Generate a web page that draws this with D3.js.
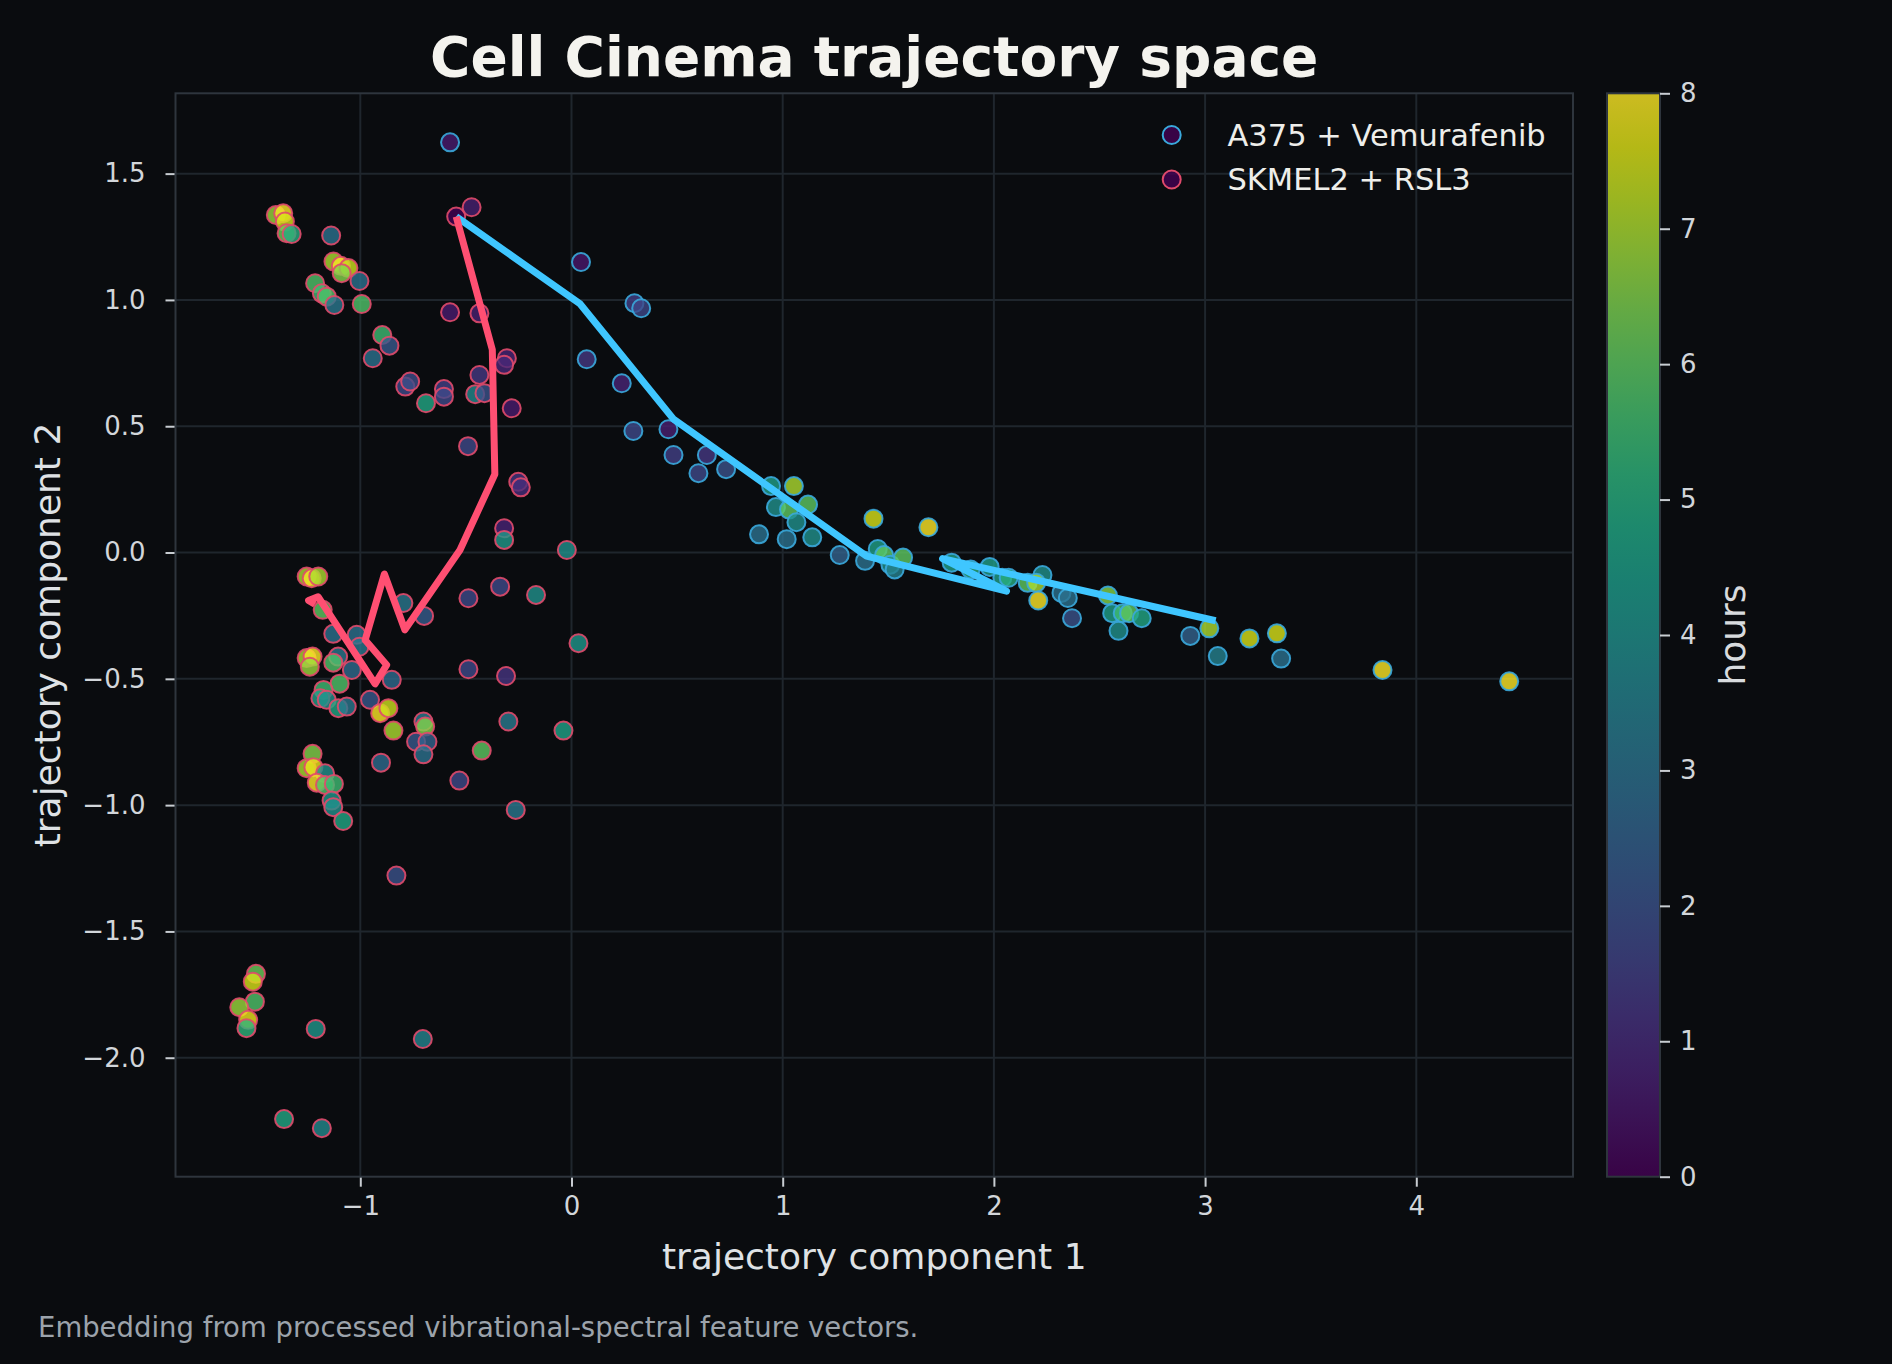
<!DOCTYPE html>
<html>
<head>
<meta charset="utf-8">
<script src="https://cdn.jsdelivr.net/npm/d3@7"></script>
<style>
  body { margin: 0; background: #0a0c0f; }
  svg { display: block; font-family: "DejaVu Sans", sans-serif; }
</style>
</head>
<body>
<script>
// A375 + Vemurafenib cells: component 1, component 2, hours
var a375X = [-0.575, 0.045, 0.298, 0.33, 0.072, 0.238, 0.293, 0.459, 0.483, 0.641, 0.601, 0.732,
  0.888, 0.945, 0.968, 1.019, 1.03, 1.053, 1.065, 1.12, 1.14, 1.27, 1.39, 1.43, 1.45, 1.48, 1.51,
  1.53, 1.57, 1.69, 1.80, 1.89, 1.98, 2.04, 2.07, 2.23, 2.16, 2.20, 2.21, 2.32, 2.35, 2.37, 2.54,
  2.56, 2.61, 2.64, 2.70, 2.59, 2.93, 3.02, 3.06, 3.21, 3.34, 3.36, 3.84, 4.44];
var a375Y = [1.624, 1.15, 0.987, 0.967, 0.765, 0.67, 0.481, 0.488, 0.386, 0.386, 0.314, 0.33,
  0.072, 0.263, 0.18, 0.053, 0.17, 0.263, 0.12, 0.19, 0.06, -0.01, -0.033, 0.134, 0.014, -0.01, -0.048,
  -0.067, -0.02, 0.1, -0.04, -0.067, -0.057, -0.10, -0.10, -0.089, -0.12, -0.12, -0.19, -0.16, -0.18, -0.26, -0.17,
  -0.24, -0.24, -0.24, -0.26, -0.31, -0.33, -0.30, -0.41, -0.34, -0.32, -0.42, -0.465, -0.51];
var a375H = [0.6, 0.5, 1.5, 1.7, 1.3, 0.8, 1.8, 0.7, 1.5, 1.3, 1.8, 2,
  3, 4.5, 4, 3, 6, 7, 4, 6, 4, 2.5, 3, 7.5, 4.5, 6, 4,
  3.5, 6, 8, 4.5, 5, 4.5, 4.5, 5, 4, 6, 7, 8, 3, 3, 2, 6.5,
  4.5, 5.5, 6, 4.8, 4, 2.5, 7, 3.5, 7.5, 7.5, 3, 8, 8];

// SKMEL2 + RSL3 cells
var skX = [-0.546, -0.473, -1.40, -1.365, -1.357, -1.349, -1.325, -1.138, -1.127, -1.092, -1.056, -1.088,
  -1.004, -1.214, -1.182, -1.159, -1.123, -0.993, -0.896, -0.862, -0.941, -0.787, -0.764, -0.689,
  -0.604, -0.604, -0.575, -0.436, -0.436, -0.456, -0.412, -0.306, -0.319, -0.283, -0.49, -0.252,
  -0.24, -0.319, -0.319, -0.022, -0.338, -0.488, -0.168, -0.796, -0.698, -1.254, -1.23, -1.199,
  -1.178, -1.128, -1.017, -1.004, 0.033, -1.105, -1.128, -1.254, -1.226, -1.239, -1.04, -0.851,
  -0.488, -0.31, -1.098, -1.174, -1.189, -1.159, -1.104, -1.064, -0.954, -0.906, -0.867, -0.843,
  -0.701, -0.693, -0.736, -0.682, -0.701, -0.299, -0.425, -0.038, -0.902, -0.531, -1.226, -1.254,
  -1.222, -1.167, -1.206, -1.167, -1.125, -1.136, -1.128, -1.081, -0.264, -0.829, -1.494, -1.509,
  -1.499, -1.573, -1.531, -1.539, -1.211, -0.704, -1.361, -1.182];
var skY = [1.33, 1.367, 1.336, 1.343, 1.31, 1.264, 1.261, 1.255, 1.152, 1.135, 1.126, 1.106,
  1.075, 1.066, 1.026, 1.013, 0.98, 0.984, 0.861, 0.819, 0.769, 0.657, 0.677, 0.591,
  0.647, 0.617, 0.951, 0.947, 0.703, 0.627, 0.631, 0.769, 0.743, 0.571, 0.421, 0.28,
  0.258, 0.096, 0.05, 0.01, -0.135, -0.181, -0.168, -0.2, -0.251, -0.095, -0.102, -0.095,
  -0.227, -0.322, -0.326, -0.373, -0.359, -0.412, -0.436, -0.418, -0.412, -0.452, -0.465, -0.504,
  -0.462, -0.489, -0.519, -0.544, -0.577, -0.583, -0.616, -0.61, -0.583, -0.636, -0.616, -0.705,
  -0.669, -0.689, -0.749, -0.749, -0.799, -0.669, -0.784, -0.705, -0.832, -0.903, -0.797, -0.854,
  -0.85, -0.874, -0.911, -0.92, -0.916, -0.982, -1.008, -1.063, -1.019, -1.279, -1.668, -1.699,
  -1.778, -1.8, -1.85, -1.883, -1.886, -1.926, -2.243, -2.279];
var skH = [0, 0.7, 6.8, 8, 7.5, 6.2, 5, 3, 7, 8, 7.4, 6.5,
  3, 5.8, 5.5, 5.8, 3.2, 5.8, 5.5, 2.2, 3, 1.8, 1.9, 4.8,
  1.5, 1.8, 0.6, 0.7, 1.3, 3.8, 2, 0.8, 0.9, 0.6, 1.8, 1.2,
  1.0, 0.8, 4.3, 4, 1.8, 1.8, 4, 3.2, 2.3, 7, 8, 7,
  6, 3, 3, 3.2, 4.2, 3.2, 5.8, 7, 8, 6.8, 2.8, 2.8,
  1.8, 1.2, 5.8, 5.5, 4.5, 4, 4.8, 3.2, 2.2, 8, 7.4, 7,
  3.3, 6.5, 2.2, 2.5, 3, 3.3, 6, 4.6, 2.8, 1.8, 6.5, 7,
  7.8, 4, 8, 5.8, 5.5, 4.2, 4, 4.8, 3.2, 2, 6.2, 7.5,
  5.8, 6.8, 7.8, 5.2, 4.2, 3.6, 4.8, 3.8];

// mean trajectories
var a375TrajX = [-0.546, 0.041, 0.483, 1.397, 2.06, 1.757, 3.05];
var a375TrajY = [1.33, 0.984, 0.528, -0.014, -0.153, -0.024, -0.27];
var skTrajX = [-0.546, -0.375, -0.363, -0.528, -0.789, -0.886, -0.977, -0.875, -0.93, -1.2, -1.245, -1.215];
var skTrajY = [1.33, 0.803, 0.31, 0.01, -0.306, -0.085, -0.346, -0.445, -0.52, -0.175, -0.19, -0.205];

var xTicks = [-1, 0, 1, 2, 3, 4];
var yTicks = [-2.0, -1.5, -1.0, -0.5, 0.0, 0.5, 1.0, 1.5];
var cbTicks = [0, 1, 2, 3, 4, 5, 6, 7, 8];
var seriesNames = ["A375 + Vemurafenib", "SKMEL2 + RSL3"];
var lineColors = ["#3fc6ff", "#ff4f72"];
var edgeColors = ["#3aa9dc", "#e04a6c"];

var W = 1892, H = 1364;
var plot = { left: 175.5, right: 1573, top: 93.3, bottom: 1176.7 };
var cb = { left: 1607, right: 1660 };

var x = d3.scaleLinear().domain([-1.875, 4.742]).range([plot.left, plot.right]);
var y = d3.scaleLinear().domain([-2.471, 1.818]).range([plot.bottom, plot.top]);
var color = d3.scaleSequential(d3.interpolateViridis).domain([0, 8]);
var cy = d3.scaleLinear().domain([0, 8]).range([plot.bottom, plot.top]);

var svg = d3.select("body").append("svg").attr("width", W).attr("height", H);
svg.append("rect").attr("width", W).attr("height", H).attr("fill", "#0a0c0f");

var minus = function(v) { return String(v).replace("-", "\u2212"); };

// grid
var g = svg.append("g");
g.selectAll(".gx").data(xTicks).enter().append("line")
  .attr("x1", d => x(d)).attr("x2", d => x(d))
  .attr("y1", plot.top).attr("y2", plot.bottom)
  .attr("stroke", "#1f262d").attr("stroke-width", 2);
g.selectAll(".gy").data(yTicks).enter().append("line")
  .attr("y1", d => y(d)).attr("y2", d => y(d))
  .attr("x1", plot.left).attr("x2", plot.right)
  .attr("stroke", "#1f262d").attr("stroke-width", 2);

// axes
var xAxis = d3.axisBottom(x).tickValues(xTicks).tickSize(10).tickPadding(10)
  .tickFormat(d => minus(d));
var yAxis = d3.axisLeft(y).tickValues(yTicks).tickSize(10).tickPadding(20)
  .tickFormat(d => minus(d3.format(".1f")(d)));

var gx = svg.append("g").attr("transform", "translate(0," + plot.bottom + ")").call(xAxis);
var gy = svg.append("g").attr("transform", "translate(" + plot.left + ",0)").call(yAxis);
[gx, gy].forEach(function(a) {
  a.select(".domain").remove();
  a.selectAll(".tick line").attr("stroke", "#c8cdd2").attr("stroke-width", 2);
  a.selectAll(".tick text").attr("fill", "#d2d6da").style("font-size", "26px")
    .style("font-family", "DejaVu Sans");
});

svg.append("rect")
  .attr("x", plot.left).attr("y", plot.top)
  .attr("width", plot.right - plot.left).attr("height", plot.bottom - plot.top)
  .attr("fill", "none").attr("stroke", "#2e353d").attr("stroke-width", 2);

// scatter
var pts = svg.append("g");
function drawSeries(X, Y, Hh, edge) {
  pts.selectAll(null).data(X.map((v, i) => ({ x: v, y: Y[i], h: Hh[i] })))
    .enter().append("circle")
    .attr("cx", d => x(d.x)).attr("cy", d => y(d.y)).attr("r", 9)
    .attr("fill", d => color(d.h)).attr("fill-opacity", 0.8)
    .attr("stroke", edge).attr("stroke-width", 2).attr("stroke-opacity", 0.9);
}
drawSeries(a375X, a375Y, a375H, edgeColors[0]);
drawSeries(skX, skY, skH, edgeColors[1]);

// trajectories
var line = d3.line().x(d => x(d[0])).y(d => y(d[1]));
svg.append("path").datum(a375TrajX.map((v, i) => [v, a375TrajY[i]]))
  .attr("d", line).attr("fill", "none").attr("stroke", lineColors[0])
  .attr("stroke-width", 7).attr("stroke-linejoin", "round");
svg.append("path").datum(skTrajX.map((v, i) => [v, skTrajY[i]]))
  .attr("d", line).attr("fill", "none").attr("stroke", lineColors[1])
  .attr("stroke-width", 7).attr("stroke-linejoin", "round");

// legend
var leg = svg.append("g");
seriesNames.forEach(function(name, i) {
  var ly = 135 + i * 44.5;
  leg.append("circle").attr("cx", 1171.7).attr("cy", ly).attr("r", 9)
    .attr("fill", color(0)).attr("fill-opacity", 0.8)
    .attr("stroke", edgeColors[i]).attr("stroke-width", 2);
  leg.append("text").attr("x", 1227.5).attr("y", ly + 10.5)
    .attr("fill", "#eeeeea").style("font-size", "30.5px").text(name);
});

// colorbar
var defs = svg.append("defs");
var grad = defs.append("linearGradient").attr("id", "vir")
  .attr("x1", "0").attr("y1", "1").attr("x2", "0").attr("y2", "0");
d3.range(0, 1.0001, 0.05).forEach(function(t) {
  grad.append("stop").attr("offset", t).attr("stop-color", d3.interpolateViridis(t));
});
svg.append("rect").attr("x", cb.left).attr("y", plot.top)
  .attr("width", cb.right - cb.left).attr("height", plot.bottom - plot.top)
  .attr("fill", "url(#vir)").attr("opacity", 0.8);
svg.append("rect").attr("x", cb.left).attr("y", plot.top)
  .attr("width", cb.right - cb.left).attr("height", plot.bottom - plot.top)
  .attr("fill", "none").attr("stroke", "#2e353d").attr("stroke-width", 2);
var cbAxis = d3.axisRight(cy).tickValues(cbTicks).tickSize(10).tickPadding(10);
var gc = svg.append("g").attr("transform", "translate(" + cb.right + ",0)").call(cbAxis);
gc.select(".domain").remove();
gc.selectAll(".tick line").attr("stroke", "#c8cdd2").attr("stroke-width", 2);
gc.selectAll(".tick text").attr("fill", "#d2d6da").style("font-size", "26px")
  .style("font-family", "DejaVu Sans");
svg.append("text")
  .attr("transform", "translate(1745," + (plot.top + plot.bottom) / 2 + ") rotate(-90)")
  .attr("text-anchor", "middle").attr("fill", "#d8dbde").style("font-size", "36px")
  .text("hours");

// titles
svg.append("text").attr("x", (plot.left + plot.right) / 2).attr("y", 76)
  .attr("text-anchor", "middle").attr("fill", "#f4f3ee")
  .style("font-size", "55px").style("font-weight", "bold")
  .text("Cell Cinema trajectory space");
svg.append("text").attr("x", (plot.left + plot.right) / 2).attr("y", 1269)
  .attr("text-anchor", "middle").attr("fill", "#dfe2e5").style("font-size", "36px")
  .text("trajectory component 1");
svg.append("text")
  .attr("transform", "translate(60," + (plot.top + plot.bottom) / 2 + ") rotate(-90)")
  .attr("text-anchor", "middle").attr("fill", "#dfe2e5").style("font-size", "36px")
  .text("trajectory component 2");
svg.append("text").attr("x", 38).attr("y", 1337)
  .attr("fill", "#9ca3ab").style("font-size", "27.5px")
  .text("Embedding from processed vibrational-spectral feature vectors.");
</script>
</body>
</html>
